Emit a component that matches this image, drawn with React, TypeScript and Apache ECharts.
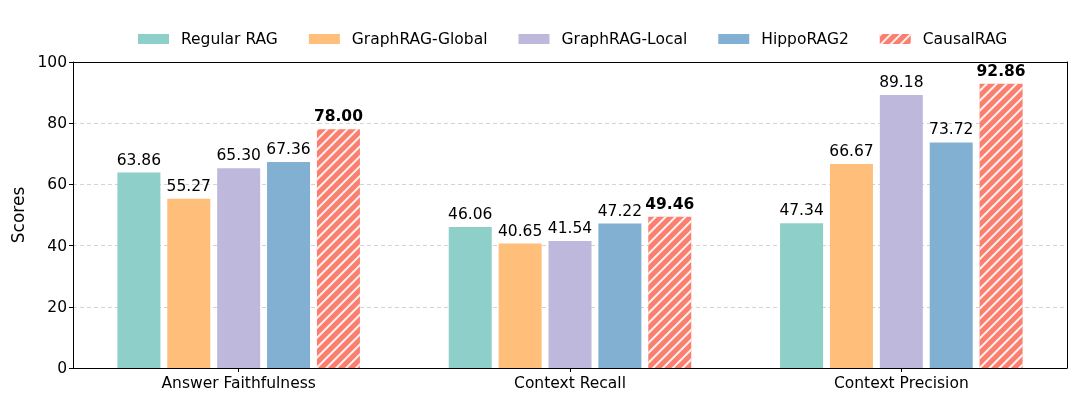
import React, { useEffect, useRef } from "react";
import * as echarts from "echarts";

const categories = ["Answer Faithfulness", "Context Recall", "Context Precision"];
const seriesNames = ["Regular RAG", "GraphRAG-Global", "GraphRAG-Local", "HippoRAG2", "CausalRAG"];
const regularRAG = [63.86, 46.06, 47.34];
const graphRAGGlobal = [55.27, 40.65, 66.67];
const graphRAGLocal = [65.3, 41.54, 89.18];
const hippoRAG2 = [67.36, 47.22, 73.72];
const causalRAG = [78.0, 49.46, 92.86];
const yTicks = [0, 20, 40, 60, 80, 100];

const colors = ["#8ECFC9", "#FFBE7A", "#BEB8DC", "#82B0D2", "#FA7F6F"];
const FONT = "DejaVu Sans";
const FS = 15.5;

export default function App() {
  const ref = useRef<HTMLDivElement>(null);
  useEffect(() => {
    if (!ref.current) return;
    const chart = echarts.init(ref.current, undefined, { renderer: "svg" });
    const all = [regularRAG, graphRAGGlobal, graphRAGLocal, hippoRAG2, causalRAG];
    const series = all.map((data, i) => {
      const hatched = i === 4;
      return {
        name: seriesNames[i],
        type: "bar",
        data,
        barWidth: 43,
        barGap: "16%",
        itemStyle: {
          color: colors[i],
          decal: hatched
            ? {
                symbol: "rect",
                symbolSize: 1,
                color: "rgba(255,255,255,0.9)",
                dashArrayX: [1, 0],
                dashArrayY: [1.2, 5],
                rotation: -Math.PI / 4,
              }
            : "none",
        },
        label: {
          show: true,
          position: "top",
          distance: 5,
          fontFamily: FONT,
          fontSize: FS,
          color: "#000",
          fontWeight: hatched ? "bold" : "normal",
          formatter: (p: any) => Number(p.value).toFixed(2),
        },
      };
    });
    chart.setOption({
      animation: false,
      aria: { enabled: false, decal: { show: false } },
      legend: {
        top: 26,
        left: 133,
        itemWidth: 31,
        itemHeight: 10,
        itemGap: 31,
        icon: "rect",
        textStyle: { fontFamily: FONT, fontSize: FS, color: "#000", padding: [0, 0, 0, 7] },
        data: seriesNames,
      },
      grid: {
        left: 73,
        right: 13,
        top: 62,
        bottom: 42,
      },
      xAxis: [
        {
          type: "category",
          data: categories,
          axisLine: { show: true, lineStyle: { color: "#000", width: 1 } },
          axisTick: { show: true, alignWithLabel: true, length: 4, lineStyle: { color: "#000" } },
          axisLabel: { fontFamily: FONT, fontSize: FS, color: "#000", margin: 7 },
        },
        {
          type: "category",
          position: "top",
          data: categories,
          z: 10,
          axisLine: { show: true, onZero: false, lineStyle: { color: "#000", width: 1 } },
          axisTick: { show: false },
          axisLabel: { show: false },
        },
      ],
      yAxis: [
        {
          type: "value",
          min: yTicks[0],
          max: yTicks[yTicks.length - 1],
          interval: 20,
          name: "Scores",
          nameLocation: "middle",
          nameGap: 42,
          nameTextStyle: { fontFamily: FONT, fontSize: 17, color: "#000" },
          axisLine: { show: true, lineStyle: { color: "#000", width: 1 } },
          axisTick: { show: true, length: 4, lineStyle: { color: "#000" } },
          axisLabel: { fontFamily: FONT, fontSize: FS, color: "#000", margin: 6 },
          splitLine: { show: true, lineStyle: { color: "#c8c8c8", type: [4, 3], width: 0.8 } },
        },
        {
          type: "value",
          position: "right",
          min: yTicks[0],
          max: yTicks[yTicks.length - 1],
          interval: 20,
          z: 10,
          axisLine: { show: true, onZero: false, lineStyle: { color: "#000", width: 1 } },
          axisTick: { show: false },
          axisLabel: { show: false },
          splitLine: { show: false },
        },
      ],
      series,
    });
    return () => chart.dispose();
  }, []);
  return (
    <div
      ref={ref}
      style={{ position: "fixed", left: 0, top: 0, width: 1080, height: 410 }}
    />
  );
}
